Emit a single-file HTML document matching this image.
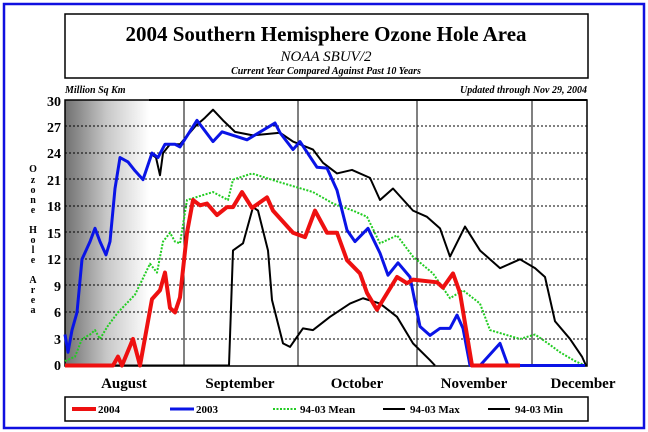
<!DOCTYPE html>
<html><head><style>
html,body{margin:0;padding:0;background:#fff;}
svg{display:block;font-family:"Liberation Serif",serif;}
</style></head><body>
<svg width="648" height="432" viewBox="0 0 648 432" xmlns="http://www.w3.org/2000/svg">
<defs>
<linearGradient id="g" x1="0" x2="1" y1="0" y2="0">
<stop offset="0" stop-color="#707070"/><stop offset="0.5" stop-color="#c8c8c8"/><stop offset="1" stop-color="#ffffff"/>
</linearGradient>
</defs>
<rect x="0" y="0" width="648" height="432" fill="#fff"/>
<rect x="4" y="4" width="640" height="424" fill="none" stroke="#1010e0" stroke-width="2.5"/>
<rect x="65" y="14" width="523" height="64" fill="none" stroke="#000" stroke-width="1.5"/>
<text x="326" y="41" text-anchor="middle" font-size="21" font-weight="bold">2004 Southern Hemisphere Ozone Hole Area</text>
<text x="326" y="61" text-anchor="middle" font-size="15" font-style="italic">NOAA SBUV/2</text>
<text x="326" y="74" text-anchor="middle" font-size="10" font-style="italic" font-weight="bold">Current Year Compared Against Past 10 Years</text>
<text x="65" y="93" font-size="10" font-style="italic" font-weight="bold">Million Sq Km</text>
<text x="587" y="93" text-anchor="end" font-size="10" font-style="italic" font-weight="bold">Updated through Nov 29, 2004</text>
<rect x="65" y="100" width="84" height="266" fill="url(#g)"/>
<g stroke="#000" stroke-width="1" stroke-dasharray="2,2">
<line x1="65" x2="587" y1="126" y2="126"/><line x1="65" x2="587" y1="153" y2="153"/>
<line x1="65" x2="587" y1="179" y2="179"/><line x1="65" x2="587" y1="206" y2="206"/>
<line x1="65" x2="587" y1="232" y2="232"/><line x1="65" x2="587" y1="259" y2="259"/>
<line x1="65" x2="587" y1="285" y2="285"/><line x1="65" x2="587" y1="312" y2="312"/>
<line x1="65" x2="587" y1="339" y2="339"/>
</g>
<g stroke="#000" stroke-width="1">
<line x1="184" x2="184" y1="100" y2="366"/><line x1="298" x2="298" y1="100" y2="366"/>
<line x1="417" x2="417" y1="100" y2="366"/><line x1="532" x2="532" y1="100" y2="366"/>
</g>
<rect x="65" y="100" width="522" height="266" fill="none" stroke="#000" stroke-width="1.5"/>
<line x1="149" x2="587" y1="100" y2="100" stroke="#000" stroke-width="2"/>
<g font-size="14" font-weight="bold" text-anchor="end">
<text x="61" y="106">30</text><text x="61" y="132">27</text><text x="61" y="158">24</text>
<text x="61" y="185">21</text><text x="61" y="211">18</text><text x="61" y="238">15</text>
<text x="61" y="264">12</text><text x="61" y="291">9</text><text x="61" y="317">6</text>
<text x="61" y="344">3</text><text x="61" y="370">0</text>
</g>
<g font-size="10" font-weight="bold" text-anchor="middle">
<text x="33" y="172">O</text><text x="33" y="183">z</text><text x="33" y="193">o</text><text x="33" y="203">n</text><text x="33" y="213">e</text>
<text x="33" y="233">H</text><text x="33" y="243">o</text><text x="33" y="253">l</text><text x="33" y="263">e</text>
<text x="33" y="283">A</text><text x="33" y="293">r</text><text x="33" y="303">e</text><text x="33" y="313">a</text>
</g>
<g font-size="15" font-weight="bold" text-anchor="middle">
<text x="124" y="388">August</text><text x="240" y="388">September</text><text x="357" y="388">October</text>
<text x="474" y="388">November</text><text x="583" y="388">December</text>
</g>
<g transform="translate(0,365.5) scale(1,-8.85)" fill="none" stroke-linejoin="round">
<polyline vector-effect="non-scaling-stroke" stroke="#000" stroke-width="2" points="150,24 156,23.5 160,21.5 163,24 170,25 180,25 195,27 205,28 213,28.9 223,27.7 235,26.4 253,26 280,26.3 293,25.3 313,24.4 323,22.9 337,21.7 352,22.1 370,21.2 380,18.7 393,20 413,17.5 427,16.8 440,15.5 450,12.3 465,15.7 480,13 500,11 520,12 535,11 545,10 555,5 570,3 582,1 586,0"/>
<polyline vector-effect="non-scaling-stroke" stroke="#000" stroke-width="2" points="65,0 229,0 233,13 243,13.8 253,17.9 258,17.5 268,13 272,7.4 283,2.5 290,2.1 303,4.2 313,4 330,5.5 350,7 363,7.6 380,7 397,5.5 413,2.5 430,0.6 435,0"/>
<polyline vector-effect="non-scaling-stroke" stroke="#22cc22" stroke-width="2" stroke-dasharray="2,1.5" points="65,0.5 75,1 82,3 90,3.5 95,4 100,3 108,4.5 118,6 135,8 150,11.5 157,10.5 163,14 170,15 175,14 180,13.8 187,18.7 213,19.6 228,18.7 233,21 252,21.7 280,20.7 313,19.6 333,18.3 353,17.5 367,16.8 380,13.8 397,14.7 413,12.3 433,10.4 450,7.6 463,8.5 480,7 490,4 505,3.5 520,3 535,3.5 548,2.5 560,1.5 575,0.5 585,0"/>
<polyline vector-effect="non-scaling-stroke" stroke="#0a14e6" stroke-width="3" points="65,3.5 68,1.5 72,4 77,6 82,12 90,14 95,15.5 100,14 106,12.5 110,14 115,20 120,23.5 128,23 135,22 143,21 152,24 158,23.5 165,25 175,25 180,24.7 197,27.7 213,25.3 222,26.4 247,25.5 275,27.4 280,26.3 293,24.4 300,25.3 307,24.1 317,22.4 327,22.3 337,19.8 347,15.3 355,14 368,15.5 380,12.7 388,10.2 398,11.6 410,10 420,4.4 430,3.4 440,4.2 450,4.2 457,5.7 463,4.2 470,0 480,0 492,1.5 500,2.5 508,0 585,0"/>
<polyline vector-effect="non-scaling-stroke" stroke="#ee1010" stroke-width="4" points="65,0 113,0 118,1 122,0 133,3 140,0 152,7.5 160,8.5 165,10.5 170,6.5 175,6 180,7.7 187,15 193,18.7 200,18.1 207,18.3 217,17 227,17.9 233,17.9 242,19.6 252,17.8 267,19 273,17.5 293,15 305,14.5 315,17.5 327,15 337,15 347,11.9 360,10.4 367,8.2 377,6.3 397,10 407,9.3 413,9.7 437,9.4 443,8.8 453,10.4 460,8.2 472,0 520,0"/>
</g>
<rect x="65" y="397" width="523" height="24" fill="none" stroke="#000" stroke-width="1.5"/>
<g font-size="11" font-weight="bold">
<line x1="72" x2="96" y1="409" y2="409" stroke="#ee1010" stroke-width="4"/><text x="98" y="413">2004</text>
<line x1="170" x2="194" y1="409" y2="409" stroke="#0a14e6" stroke-width="3"/><text x="196" y="413">2003</text>
<line x1="273" x2="297" y1="409" y2="409" stroke="#22cc22" stroke-width="2" stroke-dasharray="2,1.5"/><text x="300" y="413">94-03 Mean</text>
<line x1="383" x2="405" y1="409" y2="409" stroke="#000" stroke-width="2"/><text x="410" y="413">94-03 Max</text>
<line x1="488" x2="510" y1="409" y2="409" stroke="#000" stroke-width="2"/><text x="515" y="413">94-03 Min</text>
</g>
</svg>
</body></html>
